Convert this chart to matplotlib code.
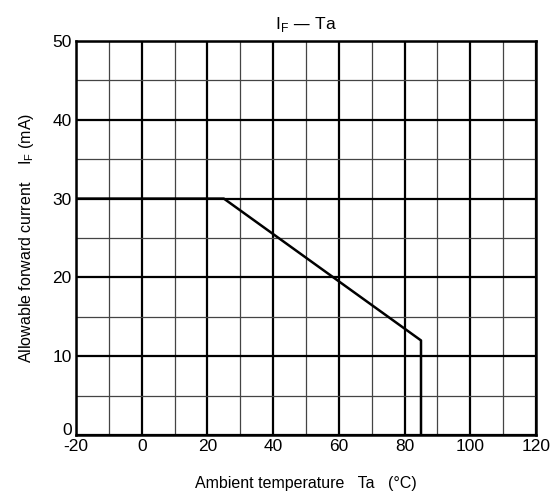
import matplotlib.pyplot as plt
from matplotlib.ticker import MultipleLocator
from matplotlib.transforms import ScaledTranslation

plt.rcParams['font.family'] = ['Liberation Sans', 'DejaVu Sans']
plt.rcParams['axes.unicode_minus'] = False

# derating curve IF vs Ta
ta = [-20, 25, 85, 85]
i_f = [30, 30, 12, 0]

x_ticks = [-20, 0, 20, 40, 60, 80, 100, 120]
y_ticks = [0, 10, 20, 30, 40, 50]

fig = plt.figure(figsize=(5.53, 4.97), dpi=100)
ax = fig.add_axes([76 / 553, 1 - 435 / 497, 460 / 553, 394 / 497])

ax.set_xlim(-20, 120)
ax.set_ylim(0, 50)
ax.set_xticks(x_ticks)
ax.set_yticks(y_ticks)
ax.xaxis.set_minor_locator(MultipleLocator(10))
ax.yaxis.set_minor_locator(MultipleLocator(5))

ax.grid(which='major', color='black', linewidth=1.6)
ax.grid(which='minor', color='#444444', linewidth=0.9)
ax.set_axisbelow(True)
ax.tick_params(which='both', length=0, labelsize=12.5, pad=3)

# y "0" label sits a bit higher, like the reference
ylab0 = ax.get_yticklabels()[0]
ylab0.set_transform(ylab0.get_transform() + ScaledTranslation(0, 4 / 72, fig.dpi_scale_trans))

for sp in ax.spines.values():
    sp.set_linewidth(1.8)

ax.plot(ta, i_f, color='black', linewidth=1.8)

ax.set_title(r'I$_\mathregular{F}$ — Ta', fontsize=12.5, pad=9)
ax.set_xlabel('Ambient temperature   Ta   (°C)', fontsize=11.5, labelpad=16)
ax.set_ylabel(r'Allowable forward current    I$_\mathregular{F}$ (mA)', fontsize=11.5, labelpad=12)

fig.savefig('out.png', dpi=100)
